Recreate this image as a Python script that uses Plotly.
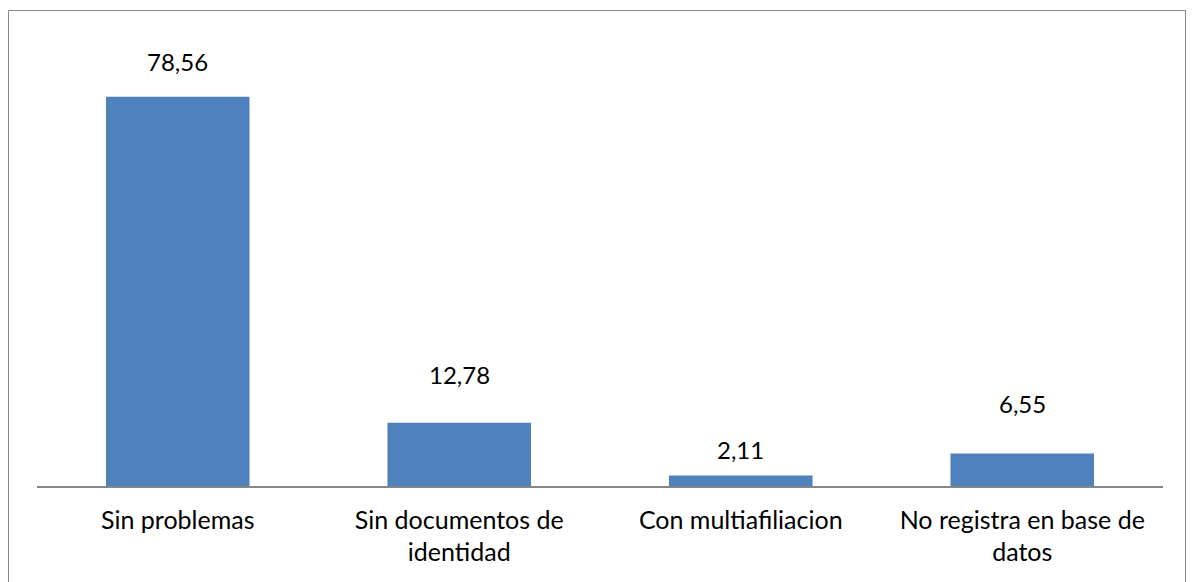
import plotly.graph_objects as go

categories = ["Sin problemas", "Sin documentos de<br>identidad", "Con multiafiliacion", "No registra en base de<br>datos"]
values = [78.56, 12.78, 2.11, 6.55]
value_labels = [f"{v:.2f}".replace(".", ",") for v in values]

# label offsets above bar tops (pixels), as placed in the original
label_offsets = [35, 48, 26, 50]

W, H = 1192, 582
L, R, T, B = 37, 29, 40, 96
pw = W - L - R
ph = H - T - B

def px_x(p):
    return (p - L) / pw

def px_y(p):
    return (H - B - p) / ph

FONT = "Lato, Open Sans, sans-serif"

fig = go.Figure()
fig.add_trace(go.Bar(
    x=categories, y=values,
    marker=dict(color="#4F81BD", line=dict(width=0)),
    width=0.51,
    hoverinfo="skip",
))

for c, v, t, off in zip(categories, values, value_labels, label_offsets):
    fig.add_annotation(x=c, y=v, text=t, showarrow=False, yshift=off,
                       font=dict(family=FONT, size=24, color="#000000"))

fig.add_shape(type="rect", xref="paper", yref="paper",
              x0=px_x(8.5), x1=px_x(1185.5), y0=px_y(620), y1=px_y(10.5),
              line=dict(color="#898989", width=1), fillcolor="rgba(0,0,0,0)", layer="below")

fig.update_layout(
    width=W, height=H,
    margin=dict(l=L, r=R, t=T, b=B),
    paper_bgcolor="white", plot_bgcolor="white",
    showlegend=False,
    font=dict(family=FONT, size=25, color="#000000"),
    bargap=0.49,
)
fig.update_xaxes(showline=True, linecolor="#868686", linewidth=1.5, ticks="",
                 showgrid=False, tickfont=dict(family=FONT, size=25, color="#000000"),
                 ticklabelstandoff=11)
fig.update_yaxes(range=[0, 90], visible=False, showgrid=False, zeroline=False)

fig.write_html("out.html", config={"displayModeBar": False, "staticPlot": True},
               post_script="document.body.style.margin='0';document.body.style.overflow='hidden';")
